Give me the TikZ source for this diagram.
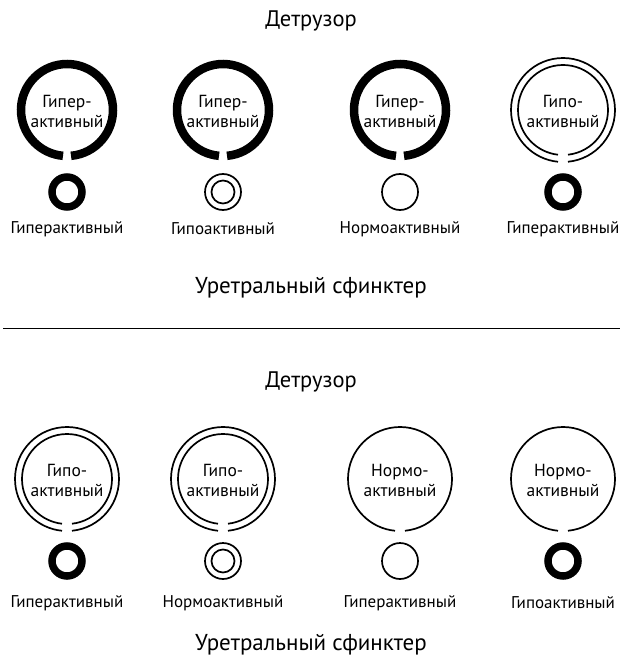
\documentclass[tikz,border=0pt]{standalone}
\usepackage{fontspec}
\setmainfont{PT Sans}
\begin{document}
\begin{tikzpicture}[x=1pt,y=1pt,
  thk/.style={line width=8.5pt},
  thn/.style={line width=1.7pt},
  title/.style={font=\fontsize{22.5}{26}\selectfont, inner sep=0pt},
  big/.style={font=\fontsize{23}{27}\selectfont, inner sep=0pt},
  lbl/.style={font=\fontsize{17}{20}\selectfont, inner sep=0pt},
  intext/.style={font=\fontsize{17.5}{20}\selectfont, align=center, inner sep=0pt},
  dethyper/.pic={\draw[thk] (275:46) arc[start angle=275,end angle=625,radius=46];},
  dethypo/.pic={\draw[thn] (275.5:52) arc[start angle=275.5,end angle=624.5,radius=52];
                \draw[thn] (276.4:45) arc[start angle=276.4,end angle=623.6,radius=45];},
  detnorm/.pic={\draw[thn] (275.5:52) arc[start angle=275.5,end angle=624.5,radius=52];},
  sphhyper/.pic={\draw[line width=7.5pt] (0,0) circle[radius=15];},
  sphhypo/.pic={\draw[thn] (0,0) circle[radius=18]; \draw[thn] (0,0) circle[radius=11.5];},
  sphnorm/.pic={\draw[thn] (0,0) circle[radius=18];}
]
\useasboundingbox (0,0) rectangle (622,-660);

% titles
\node[title] (t1) at (311,-21) {Детрузор};
\node[big] (u1) at (311,-288) {Уретральный сфинктер};
\coordinate (l1) at (3,-328);
\coordinate (l2) at (620,-328);
\draw[line width=1pt] (l1) -- (l2);
\node[title] (t2) at (311,-382) {Детрузор};
\node[big] (u2) at (311,-645) {Уретральный сфинктер};

% top row
\pic at (67,-110) {dethyper};
\pic at (223,-110) {dethyper};
\pic at (400,-110) {dethyper};
\pic at (563,-110) {dethypo};
\node[intext] (a1) at (67,-111) {Гипер-\\активный};
\node[intext] (a2) at (223,-111) {Гипер-\\активный};
\node[intext] (a3) at (400,-111) {Гипер-\\активный};
\node[intext] (a4) at (563,-111) {Гипо-\\активный};
\pic at (67,-192) {sphhyper};
\pic at (223,-192) {sphhypo};
\pic at (400,-192) {sphnorm};
\pic at (563,-192) {sphhyper};
\node[lbl] (s1) at (67,-229) {Гиперактивный};
\node[lbl] (s2) at (223,-229) {Гипоактивный};
\node[lbl] (s3) at (400,-229) {Нормоактивный};
\node[lbl] (s4) at (563,-229) {Гиперактивный};

% bottom row
\pic at (67,-479) {dethypo};
\pic at (223,-479) {dethypo};
\pic at (400,-479) {detnorm};
\pic at (563,-479) {detnorm};
\node[intext] (b1) at (67,-480) {Гипо-\\активный};
\node[intext] (b2) at (223,-480) {Гипо-\\активный};
\node[intext] (b3) at (400,-480) {Нормо-\\активный};
\node[intext] (b4) at (563,-480) {Нормо-\\активный};
\pic at (67,-561) {sphhyper};
\pic at (223,-561) {sphhypo};
\pic at (400,-561) {sphnorm};
\pic at (563,-561) {sphhyper};
\node[lbl] (r1) at (67,-603) {Гиперактивный};
\node[lbl] (r2) at (223,-603) {Нормоактивный};
\node[lbl] (r3) at (400,-603) {Гиперактивный};
\node[lbl] (r4) at (563,-603) {Гипоактивный};
\end{tikzpicture}
\end{document}
